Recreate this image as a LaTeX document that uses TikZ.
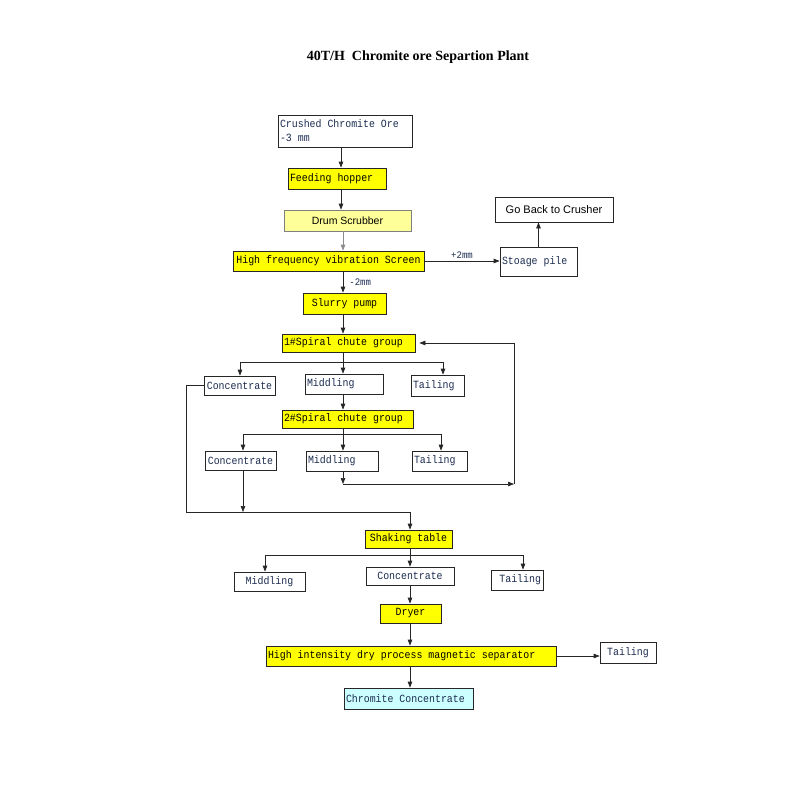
\documentclass[tikz,border=0pt]{standalone}
\usepackage{fontspec}
\setmainfont{Liberation Serif}
\setsansfont{Liberation Sans}
\newfontfamily\boxfont{Liberation Mono}[FakeStretch=0.9]
\usetikzlibrary{arrows.meta}
\definecolor{boxyellow}{HTML}{FFFF00}
\definecolor{paleyellow}{HTML}{FFFF99}
\definecolor{palecyan}{HTML}{CCFFFF}
\definecolor{inkblue}{HTML}{1C2C50}
\newcommand{\monotext}{\boxfont\fontsize{11}{14}\selectfont}
\newcommand{\monolabel}{\boxfont\fontsize{10}{12}\selectfont}

\begin{document}
\begin{tikzpicture}[x=1pt,y=-1pt,
  box/.style={draw=black!85, line width=0.7pt, inner sep=2pt, text=inkblue, font=\monotext},
  ybox/.style={box, fill=boxyellow, text=black},
  wbox/.style={box, fill=white},
  lft/.style={text width=#1, align=flush left, execute at begin node={\spaceskip=5.94pt\relax}},
  conn/.style={draw=black!85, line width=0.7pt},
  arr/.style={conn, -{Triangle[length=6pt,width=4.5pt]}},
  lbl/.style={font=\monolabel, inner sep=2pt, text=inkblue}]
\useasboundingbox (0,0) rectangle (800,800);
\fill[white] (0,0) rectangle (800,800);

\node (title) at (418,57) {\bfseries\fontsize{14}{16}\selectfont 40T/H\ \ Chromite ore Separtion Plant};

\node[wbox, lft=130pt, minimum height=32pt] (crushed) at (345,131) {Crushed Chromite Ore\\-3 mm};
\node[ybox, lft=94pt, minimum height=21pt] (feed) at (337,178.5) {Feeding hopper};
\node[box, fill=paleyellow, draw=black!50, text=black, font=\sffamily\fontsize{10.5}{12}\selectfont,
  minimum width=127pt, minimum height=21pt] (drum) at (347.5,220.5) {Drum Scrubber};
\node[ybox, minimum width=191pt, minimum height=20pt] (screen) at (328.5,261) {High frequency vibration Screen};
\node[wbox, lft=73pt, minimum height=29pt] (pile) at (538.5,261.5) {Stoage pile};
\node[wbox, text=black, font=\sffamily\fontsize{11}{13}\selectfont,
  minimum width=118pt, minimum height=25pt] (back) at (554,209.5) {Go Back to Crusher};
\node[ybox, minimum width=83pt, minimum height=21pt] (slurry) at (344.5,303.5) {Slurry pump};

\node[ybox, lft=129pt, minimum height=18pt] (sp1) at (348.5,343) {1\#Spiral chute group};
\node[wbox, minimum width=71pt, minimum height=19pt] (conc1) at (239.5,385.5) {Concentrate};
\node[wbox, lft=74pt, minimum height=20pt] (mid1) at (344,384) {Middling};
\node[wbox, lft=49pt, minimum height=21pt] (tail1) at (437.5,385.5) {Tailing};

\node[ybox, lft=127pt, minimum height=18pt] (sp2) at (347.5,419) {2\#Spiral chute group};
\node[wbox, minimum width=71pt, minimum height=19pt] (conc2) at (240.5,460.5) {Concentrate};
\node[wbox, lft=68pt, minimum height=20pt] (mid2) at (342,461) {Middling};
\node[wbox, lft=51pt, minimum height=20pt] (tail2) at (439.5,461) {Tailing};

\node[ybox, minimum width=87pt, minimum height=18pt] (shake) at (408.5,539) {Shaking table};
\node[wbox, minimum width=71pt, minimum height=19pt] (mid3) at (269.5,581.5) {Middling};
\node[wbox, minimum width=88pt, minimum height=18pt] (conc3) at (410,576) {Concentrate};
\node[wbox, text width=48pt, align=flush right, minimum height=20pt] (tail3) at (517,580) {Tailing};
\node[ybox, minimum width=61pt, minimum height=19pt] (dryer) at (410.5,613.5) {Dryer};
\node[ybox, lft=286pt, minimum height=20pt] (hid) at (411,656) {High intensity dry process magnetic separator};
\node[wbox, minimum width=56pt, minimum height=21pt] (tail4) at (628,652.5) {Tailing};
\node[box, fill=palecyan, lft=125pt, minimum height=21pt] (cc) at (408.5,698.5) {Chromite Concentrate};

\coordinate (c1) at (341,0);
\coordinate (c2) at (343,0);
\coordinate (c3) at (410,0);
\coordinate (j1l) at (240,362);
\coordinate (j1r) at (443,362);
\coordinate (j2l) at (243,434);
\coordinate (j2r) at (441,434);
\coordinate (r1) at (343,484);
\coordinate (r2) at (514,484);
\coordinate (k1) at (186,512);
\coordinate (k2) at (410,512);
\coordinate (j3l) at (265,555);
\coordinate (j3r) at (523,555);

\draw[arr] (crushed.south -| c1) -- (feed.north -| c1);
\draw[arr] (feed.south -| c1) -- (drum.north -| c1);
\draw[arr, draw=black!45] (drum.south -| c2) -- (screen.north -| c2);
\draw[arr] (screen.east) -- node[above, lbl] {+2mm} (screen.east -| pile.west);
\draw[arr] (pile.north) -- (pile.north |- back.south);
\draw[arr] (screen.south -| c2) -- node[right=4pt, lbl] {-2mm} (slurry.north -| c2);
\draw[arr] (slurry.south -| c2) -- (sp1.north -| c2);

\draw[arr] (sp1.south -| c2) -- (mid1.north -| c2);
\draw[conn] (j1l) -- (j1r);
\draw[arr] (j1l) -- (conc1.north -| j1l);
\draw[arr] (j1r) -- (tail1.north -| j1r);
\draw[arr] (mid1.south -| c2) -- (sp2.north -| c2);

\draw[arr] (sp2.south -| c2) -- (mid2.north -| c2);
\draw[conn] (j2l) -- (j2r);
\draw[arr] (j2l) -- (conc2.north -| j2l);
\draw[arr] (j2r) -- (tail2.north -| j2r);

\draw[arr] (mid2.south -| c2) -- (r1);
\draw[arr] (r1) -- (r2);
\draw[arr, shorten >=4pt] (r2) |- (sp1.east);

\draw[conn] (conc1.west) -| (k1) -- (k2);
\draw[arr] (conc2.south -| j2l) -- (k1 -| j2l);
\draw[arr] (k2) -- (shake.north -| k2);

\draw[arr] (shake.south -| c3) -- (conc3.north -| c3);
\draw[conn] (j3l) -- (j3r);
\draw[arr] (j3l) -- (mid3.north -| j3l);
\draw[arr] (j3r) -- (tail3.north -| j3r);
\draw[arr] (conc3.south -| c3) -- (dryer.north -| c3);
\draw[arr] (dryer.south -| c3) -- (hid.north -| c3);
\draw[arr] (hid.east) -- (hid.east -| tail4.west);
\draw[arr] (hid.south -| c3) -- (cc.north -| c3);

\end{tikzpicture}
\end{document}
